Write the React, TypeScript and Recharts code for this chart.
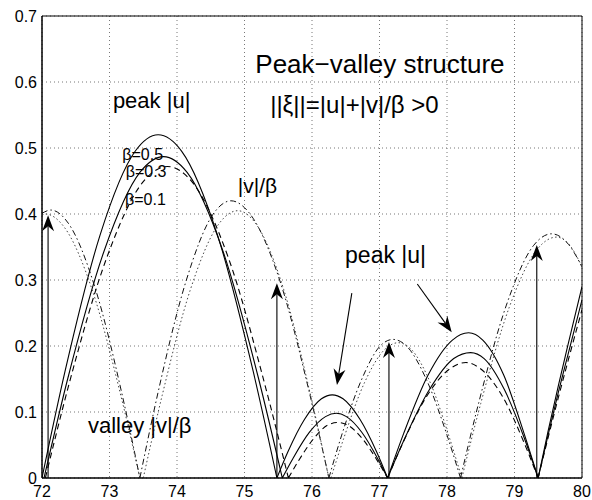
import { LineChart, Line, XAxis, YAxis, CartesianGrid, ReferenceLine, ReferenceDot, ReferenceArea } from 'recharts';

// values; null splits the arcs so the cusps stay sharp
const u05 = [
  { x: 72.0, y: 0 }, { x: 72.34, y: 0.161 }, { x: 72.86, y: 0.368 }, { x: 73.38, y: 0.495 }, { x: 73.72, y: 0.52 },
  { x: 74.07, y: 0.495 }, { x: 74.6, y: 0.368 }, { x: 75.13, y: 0.161 }, { x: 75.48, y: 0 }, { x: 75.48, y: null },
  { x: 75.48, y: 0 }, { x: 75.64, y: 0.039 }, { x: 75.89, y: 0.089 }, { x: 76.14, y: 0.12 }, { x: 76.3, y: 0.126 },
  { x: 76.46, y: 0.12 }, { x: 76.71, y: 0.089 }, { x: 76.96, y: 0.039 }, { x: 77.12, y: 0 }, { x: 77.12, y: null },
  { x: 77.12, y: 0 }, { x: 77.36, y: 0.068 }, { x: 77.72, y: 0.156 }, { x: 78.08, y: 0.209 }, { x: 78.32, y: 0.22 },
  { x: 78.53, y: 0.209 }, { x: 78.84, y: 0.156 }, { x: 79.14, y: 0.068 }, { x: 79.35, y: 0 }, { x: 79.35, y: null },
  { x: 79.35, y: 0 }, { x: 79.5, y: 0.072 }, { x: 79.65, y: 0.14 }, { x: 79.8, y: 0.205 }, { x: 80, y: 0.29 },
];

const u03 = [
  { x: 72.03, y: 0 }, { x: 72.38, y: 0.15 }, { x: 72.92, y: 0.344 }, { x: 73.45, y: 0.463 }, { x: 73.8, y: 0.487 },
  { x: 74.15, y: 0.463 }, { x: 74.68, y: 0.344 }, { x: 75.21, y: 0.15 }, { x: 75.56, y: 0 }, { x: 75.56, y: null },
  { x: 75.56, y: 0 }, { x: 75.72, y: 0.03 }, { x: 75.96, y: 0.069 }, { x: 76.2, y: 0.093 }, { x: 76.36, y: 0.098 },
  { x: 76.51, y: 0.093 }, { x: 76.74, y: 0.069 }, { x: 76.97, y: 0.03 }, { x: 77.12, y: 0 }, { x: 77.12, y: null },
  { x: 77.12, y: 0 }, { x: 77.37, y: 0.059 }, { x: 77.74, y: 0.134 }, { x: 78.1, y: 0.181 }, { x: 78.35, y: 0.19 },
  { x: 78.55, y: 0.181 }, { x: 78.85, y: 0.134 }, { x: 79.15, y: 0.059 }, { x: 79.35, y: 0 }, { x: 79.35, y: null },
  { x: 79.35, y: 0 }, { x: 79.5, y: 0.066 }, { x: 79.65, y: 0.13 }, { x: 79.8, y: 0.19 }, { x: 80, y: 0.27 },
];

const u01 = [
  { x: 72.05, y: 0 }, { x: 72.41, y: 0.146 }, { x: 72.96, y: 0.334 }, { x: 73.5, y: 0.449 }, { x: 73.86, y: 0.472 },
  { x: 74.22, y: 0.449 }, { x: 74.76, y: 0.334 }, { x: 75.29, y: 0.146 }, { x: 75.65, y: 0 }, { x: 75.65, y: null },
  { x: 75.65, y: 0 }, { x: 75.8, y: 0.026 }, { x: 76.02, y: 0.059 }, { x: 76.23, y: 0.08 }, { x: 76.38, y: 0.084 },
  { x: 76.53, y: 0.08 }, { x: 76.75, y: 0.059 }, { x: 76.97, y: 0.026 }, { x: 77.12, y: 0 }, { x: 77.12, y: null },
  { x: 77.12, y: 0 }, { x: 77.35, y: 0.054 }, { x: 77.7, y: 0.124 }, { x: 78.05, y: 0.166 }, { x: 78.28, y: 0.175 },
  { x: 78.49, y: 0.166 }, { x: 78.82, y: 0.124 }, { x: 79.14, y: 0.054 }, { x: 79.35, y: 0 }, { x: 79.35, y: null },
  { x: 79.35, y: 0 }, { x: 79.5, y: 0.062 }, { x: 79.65, y: 0.122 }, { x: 79.8, y: 0.18 }, { x: 80, y: 0.255 },
];

// |v|/beta, dash-dot
const vDashDot = [
  { x: 72.0, y: 0.401 }, { x: 72.13, y: 0.406 }, { x: 72.39, y: 0.386 }, { x: 72.79, y: 0.287 }, { x: 73.19, y: 0.125 },
  { x: 73.45, y: 0 }, { x: 73.45, y: null },
  { x: 73.45, y: 0 }, { x: 73.72, y: 0.13 }, { x: 74.13, y: 0.297 }, { x: 74.53, y: 0.399 }, { x: 74.8, y: 0.42 },
  { x: 75.09, y: 0.399 }, { x: 75.53, y: 0.297 }, { x: 75.96, y: 0.13 }, { x: 76.25, y: 0 }, { x: 76.25, y: null },
  { x: 76.25, y: 0 }, { x: 76.44, y: 0.065 }, { x: 76.73, y: 0.148 }, { x: 77.01, y: 0.2 }, { x: 77.2, y: 0.21 },
  { x: 77.4, y: 0.2 }, { x: 77.7, y: 0.148 }, { x: 78.0, y: 0.065 }, { x: 78.2, y: 0 }, { x: 78.2, y: null },
  { x: 78.2, y: 0 }, { x: 78.47, y: 0.114 }, { x: 78.88, y: 0.262 }, { x: 79.28, y: 0.352 }, { x: 79.55, y: 0.37 },
  { x: 79.8, y: 0.354 }, { x: 80, y: 0.32 },
];

// |v|/beta, dotted
const vDotted = [
  { x: 72.0, y: 0.398 }, { x: 72.05, y: 0.4 }, { x: 72.33, y: 0.38 }, { x: 72.75, y: 0.283 }, { x: 73.17, y: 0.124 },
  { x: 73.45, y: 0 }, { x: 73.45, y: null },
  { x: 73.5, y: 0 }, { x: 73.78, y: 0.125 }, { x: 74.2, y: 0.286 }, { x: 74.62, y: 0.385 }, { x: 74.9, y: 0.405 },
  { x: 75.17, y: 0.385 }, { x: 75.58, y: 0.286 }, { x: 75.98, y: 0.125 }, { x: 76.25, y: 0 }, { x: 76.25, y: null },
  { x: 76.28, y: 0 }, { x: 76.48, y: 0.063 }, { x: 76.78, y: 0.145 }, { x: 77.08, y: 0.195 }, { x: 77.28, y: 0.205 },
  { x: 77.47, y: 0.195 }, { x: 77.75, y: 0.145 }, { x: 78.03, y: 0.063 }, { x: 78.22, y: 0 }, { x: 78.22, y: null },
  { x: 78.22, y: 0 }, { x: 78.5, y: 0.113 }, { x: 78.92, y: 0.258 }, { x: 79.34, y: 0.347 }, { x: 79.62, y: 0.365 },
  { x: 79.8, y: 0.355 }, { x: 80, y: 0.32 },
];

const xTicks = [72, 73, 74, 75, 76, 77, 78, 79, 80];
const yTicks = [0, 0.1, 0.2, 0.3, 0.4, 0.5, 0.6, 0.7];

// annotation arrows (data coords, tail -> head)
const arrows = [
  { x1: 72.09, y1: 0, x2: 72.09, y2: 0.398 },
  { x1: 75.48, y1: 0, x2: 75.48, y2: 0.295 },
  { x1: 77.14, y1: 0, x2: 77.14, y2: 0.206 },
  { x1: 79.33, y1: 0, x2: 79.33, y2: 0.353 },
  { x1: 76.59, y1: 0.28, x2: 76.37, y2: 0.141 },
  { x1: 77.56, y1: 0.294, x2: 78.07, y2: 0.221 },
];

// text labels (left edge, baseline)
const notes = [
  { text: 'Peak\u2212valley structure', x: 75.16, y: 0.614, size: 26 },
  { text: '||\u03be||=|u|+|v|/\u03b2 >0', x: 75.38, y: 0.553, size: 24 },
  { text: 'peak |u|', x: 73.05, y: 0.561, size: 22 },
  { text: '\u03b2=0.5', x: 73.19, y: 0.482, size: 16 },
  { text: '\u03b2=0.3', x: 73.24, y: 0.456, size: 16 },
  { text: '\u03b2=0.1', x: 73.23, y: 0.414, size: 16 },
  { text: '|v|/\u03b2', x: 74.9, y: 0.432, size: 21 },
  { text: 'valley |v|/\u03b2', x: 72.68, y: 0.068, size: 22 },
  { text: 'peak |u|', x: 76.49, y: 0.326, size: 23 },
];

const FONT = '"Liberation Sans", Arial, sans-serif';

const ArrowShape = (p: any) => {
  const { x1, y1, x2, y2 } = p;
  const dx = x2 - x1;
  const dy = y2 - y1;
  const len = Math.hypot(dx, dy) || 1;
  const ux = dx / len;
  const uy = dy / len;
  const L = 16, W = 6, N = 5;
  const bx = x2 - ux * L;
  const by = y2 - uy * L;
  const nx = x2 - ux * (L - N);
  const ny = y2 - uy * (L - N);
  const pts = [
    [x2, y2],
    [bx - uy * W, by + ux * W],
    [nx, ny],
    [bx + uy * W, by - ux * W],
  ].map((q) => q.join(',')).join(' ');
  return (
    <g>
      <line x1={x1} y1={y1} x2={nx} y2={ny} stroke="#000" strokeWidth={1.1} />
      <polygon points={pts} fill="#000" />
    </g>
  );
};

const noteShape = (text: string, size: number) => (p: any) => (
  <text x={p.cx} y={p.cy} fontSize={size} fontFamily={FONT} fill="#000">{text}</text>
);

// tick text drawn by hand so the font size sticks
const XTick = (p: any) => (
  <text x={p.x} y={p.y} dy="0.75em" textAnchor="middle" fontSize={16} fontFamily={FONT} fill="#000">
    {p.payload.value}
  </text>
);
const YTick = (p: any) => (
  <text x={p.x} y={p.y} dy="0.36em" textAnchor="end" fontSize={16} fontFamily={FONT} fill="#000">
    {p.payload.value}
  </text>
);

const series = [
  { data: u05, dash: undefined, color: '#000', w: 1.1 },
  { data: u03, dash: undefined, color: '#000', w: 1.1 },
  { data: u01, dash: '6 4', color: '#000', w: 1.1 },
  { data: vDashDot, dash: '6 3 1.5 3', color: '#111', w: 1 },
  { data: vDotted, dash: '1.5 2.5', color: '#444', w: 1 },
];

export default function App() {
  return (
    <div style={{ position: 'absolute', left: 0, top: 0, background: '#fff' }}>
      <LineChart width={592} height={500} margin={{ top: 16, right: 10, left: 2, bottom: 0 }}>
        <CartesianGrid stroke="#777" strokeDasharray="1 3" />
        <XAxis
          type="number"
          dataKey="x"
          domain={[72, 80]}
          ticks={xTicks}
          allowDataOverflow
          height={22}
          tickLine={false}
          tickSize={3}
          tickMargin={4}
          axisLine={{ stroke: '#000' }}
          tick={XTick}
        />
        <YAxis
          type="number"
          domain={[0, 0.7]}
          ticks={yTicks}
          allowDataOverflow
          width={40}
          tickLine={false}
          tickSize={3}
          tickMargin={2}
          axisLine={{ stroke: '#000' }}
          tick={YTick}
        />
        {series.map((s, i) => (
          <Line
            key={i}
            data={s.data}
            dataKey="y"
            type="monotone"
            stroke={s.color}
            strokeWidth={s.w}
            strokeDasharray={s.dash}
            dot={false}
            activeDot={false}
            isAnimationActive={false}
          />
        ))}
        {arrows.map((a, i) => (
          <ReferenceLine
            key={'a' + i}
            segment={[{ x: a.x1, y: a.y1 }, { x: a.x2, y: a.y2 }]}
            shape={ArrowShape}
          />
        ))}
        {notes.map((n, i) => (
          <ReferenceDot key={'n' + i} x={n.x} y={n.y} r={0} shape={noteShape(n.text, n.size)} />
        ))}
        <ReferenceArea x1={72} x2={80} y1={0} y2={0.7} fill="none" stroke="#000" strokeWidth={1} />
      </LineChart>
    </div>
  );
}
